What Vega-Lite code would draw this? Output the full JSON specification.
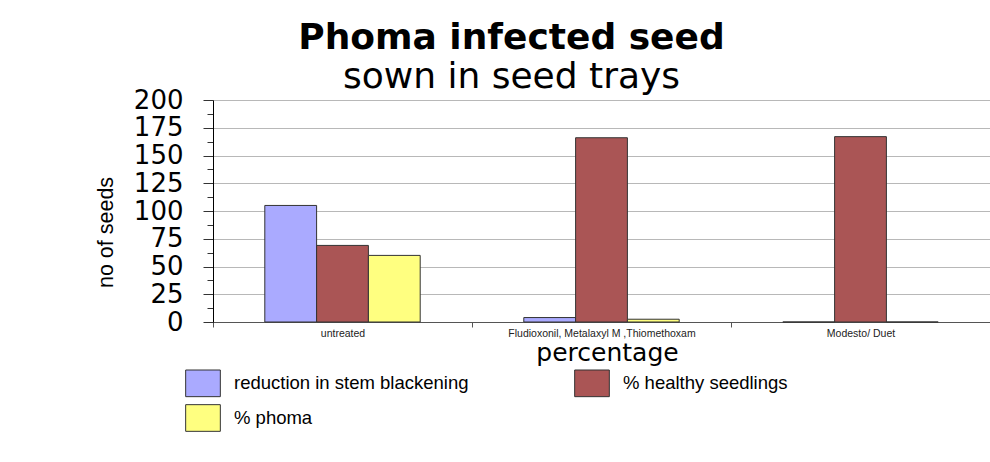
{
  "$schema": "https://vega.github.io/schema/vega-lite/v6.json",
  "width": 777,
  "height": 222,
  "autosize": {"type": "none"},
  "padding": {"left": 213, "top": 100, "right": 0, "bottom": 140},
  "background": "white",
  "title": {
    "text": "Phoma infected seed",
    "subtitle": "sown in seed trays",
    "anchor": "middle",
    "frame": "group",
    "dx": -90,
    "offset": -9,
    "font": "DejaVu Sans",
    "fontSize": 36,
    "fontWeight": "bold",
    "color": "black",
    "subtitleFont": "DejaVu Sans",
    "subtitleFontSize": 36,
    "subtitleColor": "black",
    "subtitlePadding": 3
  },
  "data": {
    "values": [
      {"treatment": "untreated", "series": "reduction in stem blackening", "value": 105},
      {"treatment": "untreated", "series": "% healthy seedlings", "value": 69},
      {"treatment": "untreated", "series": "% phoma", "value": 60},
      {"treatment": "Fludioxonil, Metalaxyl M ,Thiomethoxam", "series": "reduction in stem blackening", "value": 4},
      {"treatment": "Fludioxonil, Metalaxyl M ,Thiomethoxam", "series": "% healthy seedlings", "value": 166},
      {"treatment": "Fludioxonil, Metalaxyl M ,Thiomethoxam", "series": "% phoma", "value": 2.5},
      {"treatment": "Modesto/ Duet", "series": "reduction in stem blackening", "value": 0},
      {"treatment": "Modesto/ Duet", "series": "% healthy seedlings", "value": 167},
      {"treatment": "Modesto/ Duet", "series": "% phoma", "value": 0}
    ]
  },
  "mark": {"type": "bar", "stroke": "#333333", "strokeWidth": 1},
  "encoding": {
    "x": {
      "field": "treatment",
      "type": "nominal",
      "sort": ["untreated", "Fludioxonil, Metalaxyl M ,Thiomethoxam", "Modesto/ Duet"],
      "scale": {"paddingInner": 0, "paddingOuter": 0},
      "axis": {
        "title": "percentage",
        "labelAngle": 0,
        "labelFont": "Liberation Sans",
        "labelFontSize": 10.5,
        "labelColor": "#222222",
        "labelBaseline": "top",
        "labelPadding": 1,
        "labelLimit": 400,
        "tickBand": "extent",
        "tickSize": 5,
        "tickColor": "#555555",
        "domainColor": "#555555",
        "titleFont": "DejaVu Sans",
        "titleFontSize": 25,
        "titleFontWeight": "normal",
        "titleColor": "black",
        "titleBaseline": "alphabetic",
        "titleAlign": "center",
        "titleX": 394,
        "titleY": 38
      }
    },
    "xOffset": {
      "field": "series",
      "type": "nominal",
      "sort": ["reduction in stem blackening", "% healthy seedlings", "% phoma"],
      "scale": {"paddingInner": 0, "paddingOuter": 1.18}
    },
    "y": {
      "field": "value",
      "type": "quantitative",
      "scale": {"domain": [0, 200], "nice": false},
      "axis": {
        "title": "no of seeds",
        "values": [0, 12.5, 25, 37.5, 50, 62.5, 75, 87.5, 100, 112.5, 125, 137.5, 150, 162.5, 175, 187.5, 200],
        "labelExpr": "datum.value % 25 === 0 ? datum.label : ''",
        "labelOverlap": false,
        "labelFont": "DejaVu Sans",
        "labelFontSize": 26,
        "labelColor": "black",
        "labelPadding": 20,
        "grid": true,
        "gridColor": "#b8b8b8",
        "gridOpacity": {"condition": {"test": "datum.value % 25 !== 0", "value": 0}, "value": 1},
        "tickSize": {"condition": {"test": "datum.value % 25 !== 0", "value": 6}, "value": 10},
        "tickColor": "#333333",
        "domainColor": "black",
        "titleFont": "Liberation Sans",
        "titleFontSize": 21.5,
        "titleFontWeight": "normal",
        "titleColor": "black",
        "titleAngle": -90,
        "titleBaseline": "alphabetic",
        "titleAlign": "center",
        "titleX": -101,
        "titleY": 132
      }
    },
    "color": {
      "field": "series",
      "type": "nominal",
      "sort": ["reduction in stem blackening", "% healthy seedlings", "% phoma"],
      "scale": {
        "domain": ["reduction in stem blackening", "% healthy seedlings", "% phoma"],
        "range": ["#aaaaff", "#aa5555", "#ffff80"]
      },
      "legend": {
        "orient": "none",
        "direction": "horizontal",
        "legendX": -24,
        "legendY": 269,
        "columns": 2,
        "columnPadding": 103,
        "rowPadding": 3,
        "padding": 0,
        "title": null,
        "symbolType": "M-1.3,-1H1.3V1H-1.3Z",
        "symbolSize": 711,
        "symbolStrokeColor": "#333333",
        "symbolStrokeWidth": 1,
        "symbolOpacity": 1,
        "labelFont": "Liberation Sans",
        "labelFontSize": 18.5,
        "labelColor": "black",
        "labelOffset": 17,
        "labelLimit": 400
      }
    }
  },
  "config": {"view": {"stroke": null}}
}
